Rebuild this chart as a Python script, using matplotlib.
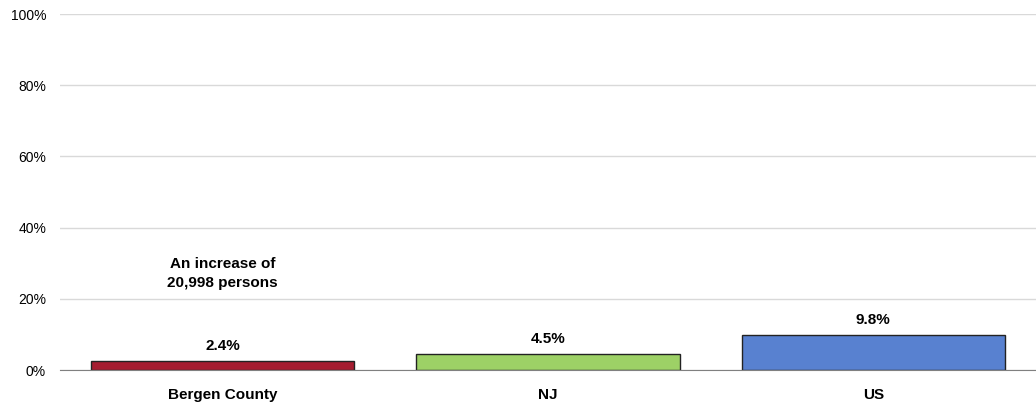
import matplotlib
matplotlib.use("Agg")
import matplotlib.pyplot as plt
from matplotlib import font_manager

categories = ["Bergen County", "NJ", "US"]
values = [2.4, 4.5, 9.8]
labels = ["2.4%", "4.5%", "9.8%"]
colors = ["#A51C30", "#9DD166", "#5881D0"]
yticks = [0, 20, 40, 60, 80, 100]
ytick_labels = ["0%", "20%", "40%", "60%", "80%", "100%"]
note = "An increase of\n20,998 persons"

names = {f.name for f in font_manager.fontManager.ttflist}
fam = ["Liberation Sans Narrow"] if "Liberation Sans Narrow" in names else []
plt.rcParams["font.family"] = fam + ["Liberation Sans", "DejaVu Sans"]

fig = plt.figure(figsize=(10.36, 4.09), dpi=100)
ax = fig.add_axes([60/1036, 1 - 370/409, 976/1036, 356/409])
x = list(range(len(categories)))
ax.bar(x, values, width=0.81, color=colors, edgecolor="#222222", linewidth=1, zorder=3)
ax.set_xlim(-0.5, 2.5)
ax.set_ylim(0, 100)
ax.set_yticks(yticks)
ax.set_yticklabels(ytick_labels, fontsize=10)
ax.set_xticks(x)
ax.set_xticklabels(categories, fontsize=11, fontweight="bold")
ax.tick_params(axis="both", length=0)
ax.tick_params(axis="y", pad=10)
ax.tick_params(axis="x", pad=13)
ax.grid(axis="y", color="#D9D9D9", linewidth=1, zorder=0)
for s in ["top", "right", "left"]:
    ax.spines[s].set_visible(False)
ax.spines["bottom"].set_color("#808080")
ax.spines["bottom"].set_zorder(4)
for xi, v, lab in zip(x, values, labels):
    ax.annotate(lab, (xi, v), xytext=(0, 6), textcoords="offset points",
                ha="center", va="bottom", fontsize=11, fontweight="bold")
ax.text(0, 22.5, note, ha="center", va="bottom", fontsize=11, fontweight="bold",
        linespacing=1.45)
fig.savefig("out.png", dpi=100)
